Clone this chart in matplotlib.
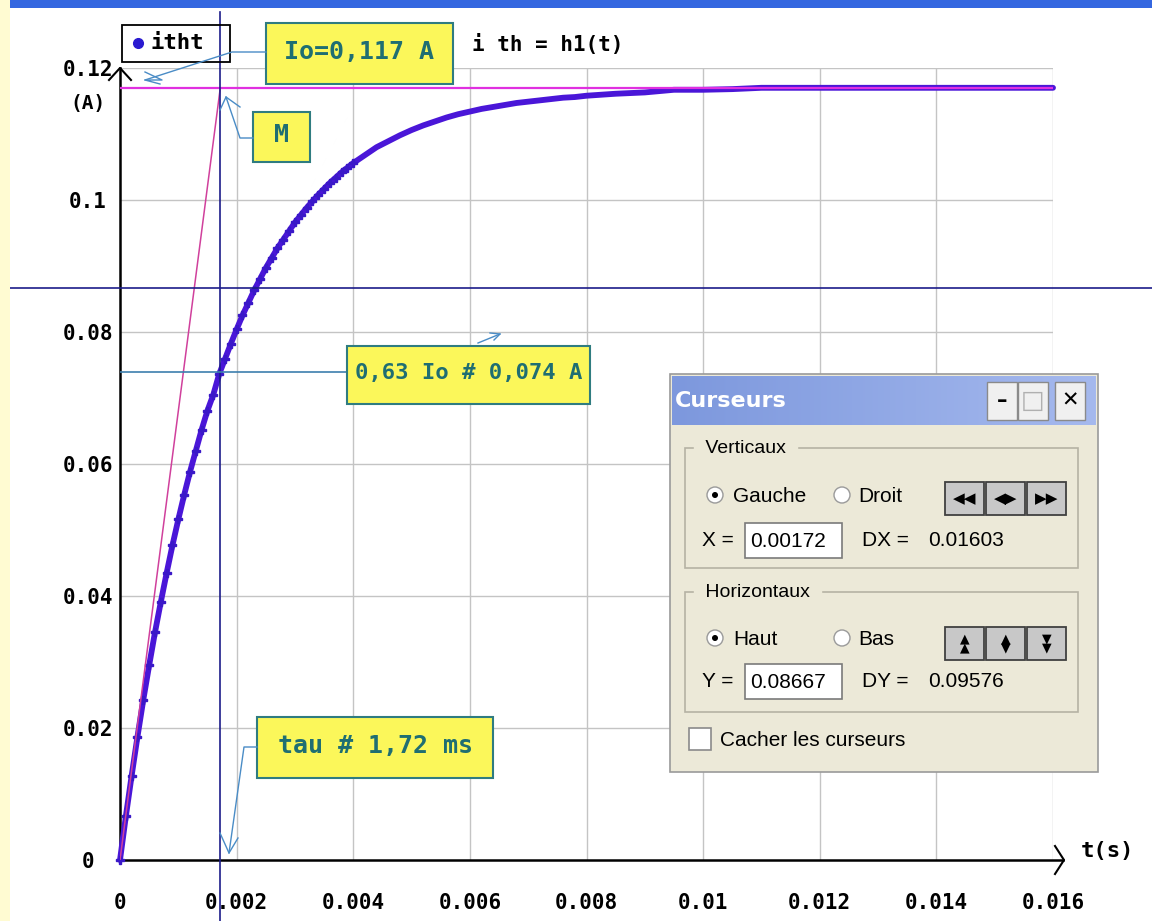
import numpy as np
import matplotlib
matplotlib.use("Agg")
import matplotlib.pyplot as plt
import matplotlib.transforms as mtransforms
from matplotlib.patches import Rectangle, Circle

t_s = [0.0000, 0.0001, 0.0002, 0.0003, 0.0004, 0.0005, 0.0006, 0.0007, 0.0008, 0.0009,
       0.0010, 0.0011, 0.0012, 0.0013, 0.0014, 0.0015, 0.0016, 0.0017, 0.0018, 0.0019,
       0.0020, 0.0021, 0.0022, 0.0023, 0.0024, 0.0025, 0.0026, 0.0027, 0.0028, 0.0029,
       0.0030, 0.0031, 0.0032, 0.0033, 0.0034, 0.0035, 0.0036, 0.0037, 0.0038, 0.0039,
       0.0040, 0.0042, 0.0044, 0.0046, 0.0048, 0.0050, 0.0052, 0.0054, 0.0056, 0.0058,
       0.0060, 0.0062, 0.0064, 0.0066, 0.0068, 0.0070, 0.0072, 0.0074, 0.0076, 0.0078,
       0.0080, 0.0085, 0.0090, 0.0095, 0.0100, 0.0105, 0.0110, 0.0115, 0.0120, 0.0125,
       0.0130, 0.0135, 0.0140, 0.0145, 0.0150, 0.0155, 0.0160]
i_th = [0.0000, 0.0066, 0.0128, 0.0187, 0.0243, 0.0295, 0.0345, 0.0391, 0.0435, 0.0477,
        0.0516, 0.0553, 0.0588, 0.0620, 0.0652, 0.0681, 0.0705, 0.0736, 0.0759, 0.0782,
        0.0804, 0.0825, 0.0844, 0.0863, 0.0880, 0.0897, 0.0912, 0.0927, 0.0940, 0.0953,
        0.0966, 0.0977, 0.0988, 0.0998, 0.1008, 0.1017, 0.1026, 0.1034, 0.1042, 0.1049,
        0.1056, 0.1068, 0.1080, 0.1089, 0.1098, 0.1106, 0.1113, 0.1119, 0.1125, 0.1130,
        0.1134, 0.1138, 0.1141, 0.1144, 0.1147, 0.1149, 0.1151, 0.1153, 0.1155, 0.1156,
        0.1158, 0.1161, 0.1163, 0.1167, 0.1167, 0.1168, 0.1170, 0.1170, 0.1170, 0.1170,
        0.1170, 0.1170, 0.1170, 0.1170, 0.1170, 0.1170, 0.1170]

io_val = 0.117
tau = 0.00172
cursor_x = 0.00172
cursor_y = 0.08667

x_ticks = [0, 0.002, 0.004, 0.006, 0.008, 0.01, 0.012, 0.014, 0.016]
x_labels = ["0", "0.002", "0.004", "0.006", "0.008", "0.01", "0.012", "0.014", "0.016"]
y_ticks = [0, 0.02, 0.04, 0.06, 0.08, 0.1, 0.12]
y_labels = ["0", "0.02", "0.04", "0.06", "0.08", "0.1", "0.12"]

W, H = 1152, 921
MONO = "DejaVu Sans Mono"
TEAL = "#1f6e72"
NAVY = "#1c1c8a"

fig = plt.figure(figsize=(W / 100, H / 100), dpi=100)
fig.patch.set_facecolor("white")

ax = fig.add_axes([120 / W, 1 - 860 / H, (1053 - 120) / W, (860 - 68) / H])
ax.set_xlim(0, 0.016)
ax.set_ylim(0, 0.12)
ax.patch.set_alpha(0)
for s in ax.spines.values():
    s.set_visible(False)

# grid
for xv in x_ticks[1:]:
    ax.plot([xv, xv], [0, 0.12], color="#c4c4c4", lw=1, zorder=0)
for yv in y_ticks[1:]:
    ax.plot([0, 0.016], [yv, yv], color="#c4c4c4", lw=1, zorder=0)

ax.set_xticks(x_ticks)
ax.set_xticklabels(x_labels, fontfamily=MONO, fontweight="bold", fontsize=15)
ax.set_yticks(y_ticks)
ax.set_yticklabels(y_labels, fontfamily=MONO, fontweight="bold", fontsize=15)
for lab in ax.get_yticklabels():
    lab.set_ha("center")
ax.set_xticks(x_ticks[1:-1], minor=True)
ax.set_yticks(y_ticks[1:-1], minor=True)
ax.tick_params(which="major", length=0, pad=0)
ax.tick_params(axis="x", which="major", pad=24)
ax.tick_params(axis="y", which="major", pad=23)
ax.tick_params(which="minor", direction="in", length=21, width=2, color="black")

# axes lines
ax.plot([0, 0], [0, 0.12], color="black", lw=1.8, clip_on=False, zorder=3)
ax.plot([0, 0.01617], [0, 0], color="black", lw=1.8, clip_on=False, zorder=3)

# measured curve
ax.plot(t_s, i_th, color="#4a16d8", lw=4.2, solid_capstyle="round", zorder=4, clip_on=False)
ax.plot(t_s[:41], i_th[:41], linestyle="none", marker="P", ms=6, color="#3a18c8", zorder=4, clip_on=False)

# Io asymptote and tangent at origin
ax.plot([0, 0.016], [io_val, io_val], color="#e030e0", lw=1.6, zorder=5)
ax.plot([0, tau], [0, io_val], color="#d0409c", lw=1.1, zorder=5)

# cursors
tr_h = mtransforms.blended_transform_factory(fig.transFigure, ax.transData)
ax.plot([10 / W, 1], [cursor_y, cursor_y], color=NAVY, lw=1.2, transform=tr_h, clip_on=False, zorder=6)
tr_v = mtransforms.blended_transform_factory(ax.transData, fig.transFigure)
ax.plot([cursor_x, cursor_x], [0, 1 - 12 / H], color=NAVY, lw=1.2, transform=tr_v, clip_on=False, zorder=6)

# 0.63 Io line
ax.plot([0, 0.00391], [0.074, 0.074], color="#3d7fae", lw=1.2, zorder=6)

# --- overlay in pixel coordinates ---
ov = fig.add_axes([0, 0, 1, 1], zorder=5)
ov.set_xlim(0, W)
ov.set_ylim(H, 0)
ov.axis("off")

ov.add_patch(Rectangle((0, 0), 10, H, facecolor="#fffbd2", edgecolor="none"))
ov.add_patch(Rectangle((10, 0), W - 10, 8, facecolor="#3467e0", edgecolor="none"))

# axis arrowheads
ov.plot([109, 120, 131], [80, 68, 80], color="black", lw=1.5)
ov.plot([1055, 1064, 1055], [846, 860, 874], color="black", lw=1.5)
ov.text(1108, 851, "t(s)", fontfamily=MONO, fontweight="bold", fontsize=16, ha="center", va="center")
ov.text(88, 103, "(A)", fontfamily=MONO, fontweight="bold", fontsize=14, ha="center", va="center")

# legend and title
ov.add_patch(Rectangle((122, 25), 108, 37, facecolor="none", edgecolor="black", lw=1.3))
ov.plot([138], [43], marker="o", color="#2a1ad0", ms=7)
ov.text(150, 43, "itht", fontfamily=MONO, fontweight="bold", fontsize=16, va="center")
ov.text(548, 45, "i th = h1(t)", fontfamily=MONO, fontweight="bold", fontsize=15, ha="center", va="center")


def note(x0, y0, x1, y1, txt, fs):
    ov.add_patch(Rectangle((x0, y0), x1 - x0, y1 - y0, facecolor="#fbf75a", edgecolor="#2f7c80", lw=1.5))
    ov.text((x0 + x1) / 2, (y0 + y1) / 2 - 2, txt, fontfamily=MONO, fontweight="bold",
            fontsize=fs, color=TEAL, ha="center", va="center")


ARROW = "#4a8cc6"
note(266, 23, 453, 84, "Io=0,117 A", 18)
ov.plot([266, 232, 145], [52, 52, 80], color=ARROW, lw=1)
ov.plot([145, 162, 145, 160], [72, 80, 80, 84], color=ARROW, lw=1)

note(253, 112, 310, 162, "M", 18)
ov.plot([253, 240, 226], [138, 138, 97], color=ARROW, lw=1)
ov.plot([220, 226, 240], [110, 97, 107], color=ARROW, lw=1)

note(347, 346, 590, 404, "0,63 Io # 0,074 A", 16)
ov.plot([478, 500], [343, 334], color=ARROW, lw=1)
ov.plot([490, 500, 494], [333, 334, 340], color=ARROW, lw=1)

note(257, 717, 493, 778, "tau # 1,72 ms", 18)
ov.plot([257, 244, 229], [747, 747, 853], color=ARROW, lw=1)
ov.plot([220, 229, 238], [833, 853, 838], color=ARROW, lw=1)

# --- "Curseurs" dialog ---
DLG = "#ece9d8"
ov.add_patch(Rectangle((670, 374), 428, 398, facecolor=DLG, edgecolor="#9a9a9a", lw=1.2, zorder=1))
grad = np.linspace(0, 1, 200).reshape(1, -1)
ov.imshow(grad, extent=(672, 1096, 425, 376), aspect="auto", zorder=2,
          cmap=matplotlib.colors.LinearSegmentedColormap.from_list("tb", ["#7d98dd", "#a5b9ee"]))
ov.set_xlim(0, W)
ov.set_ylim(H, 0)
ov.text(675, 401, "Curseurs", fontfamily="DejaVu Sans", fontweight="bold", fontsize=16,
        color="white", va="center", zorder=3)
for bx, glyph in [(987, "–"), (1018, "□"), (1055, "✕")]:
    ov.add_patch(Rectangle((bx, 382), 30, 38, facecolor="#f0f0f0", edgecolor="#8a8a8a", lw=1, zorder=3))
    ov.text(bx + 15, 401, glyph, fontsize=15 if glyph != "□" else 18, fontweight="bold",
            color="black" if glyph != "□" else "#b0b0b0", ha="center", va="center", zorder=4)

SANS = "Liberation Sans"
for (gy0, gy1, label) in [(448, 568, "Verticaux"), (592, 712, "Horizontaux")]:
    ov.add_patch(Rectangle((685, gy0), 393, gy1 - gy0, facecolor="none", edgecolor="#b5b2a4", lw=1.2, zorder=3))
    ov.text(700, gy0, " " + label + " ", fontfamily=SANS, fontsize=14, va="center",
            backgroundcolor=DLG, zorder=4)


def radio(x, y, on):
    ov.add_patch(Circle((x, y), 8, facecolor="white", edgecolor="#9a9a9a", lw=1, zorder=4))
    if on:
        ov.add_patch(Circle((x, y), 3, facecolor="black", edgecolor="none", zorder=5))


radio(715, 495, True)
radio(842, 495, False)
ov.text(733, 496, "Gauche", fontfamily=SANS, fontsize=15, va="center", zorder=4)
ov.text(858, 496, "Droit", fontfamily=SANS, fontsize=15, va="center", zorder=4)
radio(715, 638, True)
radio(842, 638, False)
ov.text(733, 639, "Haut", fontfamily=SANS, fontsize=15, va="center", zorder=4)
ov.text(858, 639, "Bas", fontfamily=SANS, fontsize=15, va="center", zorder=4)

for by, glyphs in [(482, ["◀◀", "◀▶", "▶▶"]), (627, ["▲\n▲", "▲\n▼", "▼\n▼"])]:
    for k, g in enumerate(glyphs):
        bx = 945 + k * 41
        ov.add_patch(Rectangle((bx, by), 39, 33, facecolor="#c8c8c8", edgecolor="#404040", lw=1.3, zorder=4))
        ov.text(bx + 19.5, by + 16.5, g, fontsize=9 if "\n" in g else 11, ha="center", va="center",
                linespacing=0.6, zorder=5)

for ey, lbl, val, dlbl, dval in [(540, "X =", "0.00172", "DX =", "0.01603"),
                                 (681, "Y =", "0.08667", "DY =", "0.09576")]:
    ov.text(702, ey, lbl, fontfamily=SANS, fontsize=15, va="center", zorder=4)
    ov.add_patch(Rectangle((745, ey - 17), 97, 35, facecolor="white", edgecolor="#7a7a7a", lw=1.2, zorder=4))
    ov.text(750, ey + 1, val, fontfamily=SANS, fontsize=15, va="center", zorder=5)
    ov.text(862, ey, dlbl, fontfamily=SANS, fontsize=15, va="center", zorder=4)
    ov.text(928, ey, dval, fontfamily=SANS, fontsize=15, va="center", zorder=4)

ov.add_patch(Rectangle((689, 728), 22, 22, facecolor="white", edgecolor="#8a8a8a", lw=1.2, zorder=4))
ov.text(720, 740, "Cacher les curseurs", fontfamily=SANS, fontsize=15, va="center", zorder=4)

fig.savefig("out.png", dpi=100)
